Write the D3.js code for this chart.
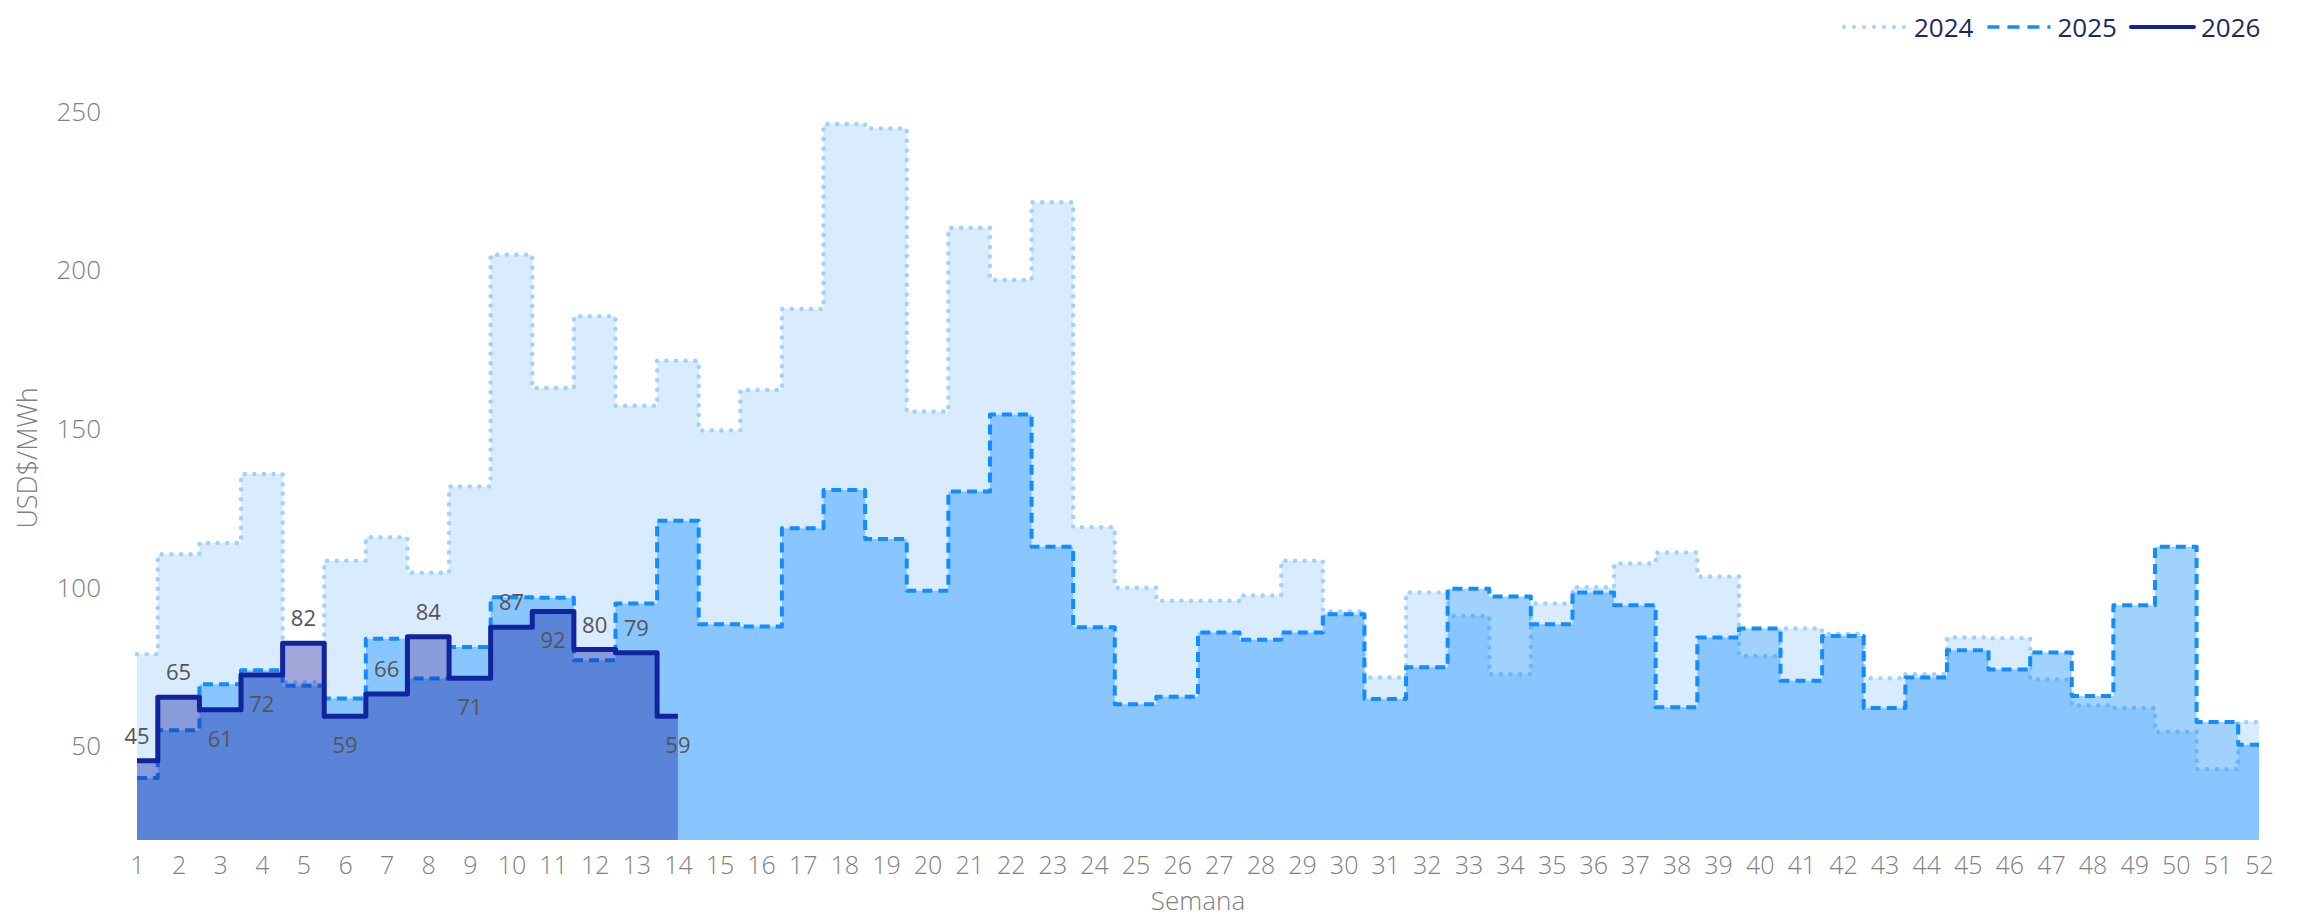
<!DOCTYPE html>
<html>
<head>
<meta charset="utf-8">
<script src="https://cdn.jsdelivr.net/npm/d3@7"></script>
<style>
  body { margin: 0; background: #fff; }
  svg text { font-family: "Segoe UI", "Open Sans", "Noto Sans", sans-serif; }
</style>
</head>
<body>
<div id="chart"></div>
<script>
// semanas y precios (USD$/MWh)
var weeks = [1,2,3,4,5,6,7,8,9,10,11,12,13,14,15,16,17,18,19,20,21,22,23,24,25,26,
             27,28,29,30,31,32,33,34,35,36,37,38,39,40,41,42,43,44,45,46,47,48,49,50,51,52];

var values2024 = [78.5,110,113.6,135.3,69.6,108,115.4,104.2,131.4,204.4,162.4,185,156.8,171,
                  149,161.8,187.3,245.6,244.2,155,212.9,196.4,220.9,118.5,99.5,95.4,95.4,97,
                  108,92,71.2,98,90.6,72.2,94.5,99.6,107.1,110.6,103,78,86.6,85,71,72.2,
                  83.8,83.6,70.6,62.4,61.6,54.1,42.3,57.2];

var values2025 = [39.5,54.6,69.1,73.5,68.6,64.6,83.4,70.9,80.8,96.5,96.3,76.6,94.5,120.6,
                  88,87.3,118.2,130.3,114.8,98.5,129.8,154.1,112.4,87,62.8,65.1,85.4,83.1,
                  85.4,91.1,64.4,74.4,99.2,96.7,88,98,94,61.8,83.8,86.6,70.2,84.3,61.6,71.2,
                  79.8,73.7,79.1,65.4,94,112.4,57.2,50];

var values2026 = [45,65,61,72,82,59,66,84,71,87,92,80,79,59];

var yTicks = [50,100,150,200,250];
var seriesNames = ["2024","2025","2026"];

var width = 2300, height = 919;

var svg = d3.select("#chart").append("svg")
    .attr("width", width)
    .attr("height", height);

var x = d3.scaleLinear().domain([1, 52]).range([137, 2259]);
var y = d3.scaleLinear().domain([20, 250]).range([840, 110]);

var series = [
    {name: seriesNames[0], values: values2024, color: "#a0d0ff", width: 4.5, dash: "0 9.6"},
    {name: seriesNames[1], values: values2025, color: "#118dff", width: 4, dash: "10 6"},
    {name: seriesNames[2], values: values2026, color: "#12239e", width: 5, dash: null}
];

var area = d3.area()
    .x(function(d, i) { return x(weeks[i]); })
    .y0(y(20))
    .y1(function(d) { return y(d); })
    .curve(d3.curveStep);

var line = d3.line()
    .x(function(d, i) { return x(weeks[i]); })
    .y(function(d) { return y(d); })
    .curve(d3.curveStep);

series.forEach(function(s) {
    svg.append("path")
        .attr("d", area(s.values))
        .attr("fill", s.color)
        .attr("fill-opacity", 0.4);
    svg.append("path")
        .attr("d", line(s.values))
        .attr("fill", "none")
        .attr("stroke", s.color)
        .attr("stroke-width", s.width)
        .attr("stroke-dasharray", s.dash)
        .attr("stroke-linecap", s.dash && s.dash[0] == "0" ? "round" : "butt")
        .attr("stroke-linejoin", "round");
});

// etiquetas de 2026
var below = [3,4,6,9,11,14];
svg.selectAll(".lbl")
    .data(values2026)
    .enter().append("text")
    .attr("class", "lbl")
    .attr("x", function(d, i) { return x(weeks[i]); })
    .attr("y", function(d, i) {
        return below.indexOf(weeks[i]) >= 0 ? y(d) + 28 : y(d) - 26;
    })
    .attr("text-anchor", "middle")
    .attr("dominant-baseline", "central")
    .attr("font-size", 22)
    .attr("fill", "#555")
    .text(function(d) { return d; });

// ejes
var xAxis = d3.axisBottom(x).tickValues(weeks).tickSize(0).tickPadding(0);
var gx = svg.append("g")
    .attr("transform", "translate(0," + y(20) + ")")
    .call(xAxis);
gx.select(".domain").remove();
gx.selectAll("text")
    .attr("dy", null)
    .attr("y", 24)
    .attr("dominant-baseline", "central")
    .attr("font-size", 25)
    .attr("font-weight", 300)
    .attr("fill", "#808080");

var yAxis = d3.axisLeft(y).tickValues(yTicks).tickSize(0).tickPadding(0);
var gy = svg.append("g")
    .attr("transform", "translate(101,0)")
    .call(yAxis);
gy.select(".domain").remove();
gy.selectAll("text")
    .attr("dy", null)
    .attr("x", 0)
    .attr("dominant-baseline", "central")
    .attr("font-size", 26)
    .attr("font-weight", 300)
    .attr("fill", "#808080");

svg.append("text")
    .attr("x", 1198)
    .attr("y", 900)
    .attr("text-anchor", "middle")
    .attr("dominant-baseline", "central")
    .attr("font-size", 26)
    .attr("font-weight", 300)
    .attr("fill", "#808080")
    .text("Semana");

svg.append("text")
    .attr("transform", "translate(26,458) rotate(-90)")
    .attr("text-anchor", "middle")
    .attr("dominant-baseline", "central")
    .attr("font-size", 27)
    .attr("font-weight", 300)
    .attr("fill", "#808080")
    .text("USD$/MWh");

// leyenda
var lx = 1844;
series.forEach(function(s) {
    svg.append("line")
        .attr("x1", lx).attr("x2", lx + 63)
        .attr("y1", 27).attr("y2", 27)
        .attr("stroke", s.color)
        .attr("stroke-width", s.dash ? s.width - 0.5 : 4)
        .attr("stroke-dasharray", s.dash ? (s.dash[0] == "0" ? "0 10" : "12 8") : null)
        .attr("stroke-linecap", s.dash ? (s.dash[0] == "0" ? "round" : "butt") : "round");
    var t = svg.append("text")
        .attr("x", lx + 70)
        .attr("y", 27)
        .attr("dominant-baseline", "central")
        .attr("font-size", 26)
        .attr("fill", "#1b2a5e")
        .text(s.name);
    lx = lx + 70 + t.node().getComputedTextLength() + 14;
});
</script>
</body>
</html>
